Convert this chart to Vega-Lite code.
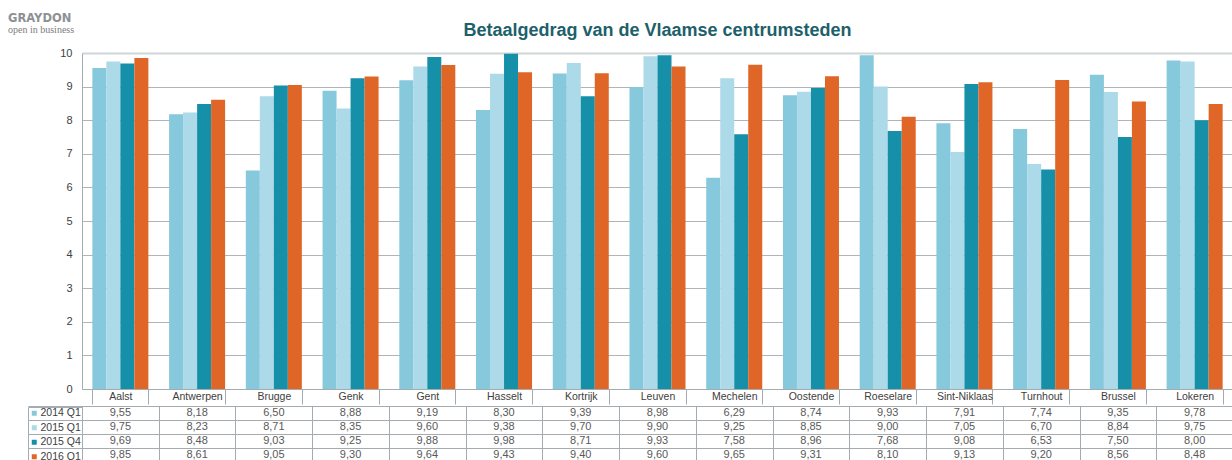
{
  "$schema": "https://vega.github.io/schema/vega-lite/v6.json",
  "padding": {"left": 8, "top": 12, "right": 0, "bottom": 0},
  "autosize": {"type": "pad"},
  "background": "white",
  "config": {
    "font": "Liberation Sans",
    "view": {"stroke": null},
    "locale": {"number": {"decimal": ",", "thousands": ".", "grouping": [3], "currency": ["€", ""]}}
  },
  "title": {
    "text": "GRAYDON",
    "subtitle": "open in business",
    "anchor": "start",
    "frame": "bounds",
    "font": "DejaVu Sans",
    "fontSize": 11.5,
    "fontWeight": "bold",
    "color": "#8d9094",
    "subtitleFont": "Liberation Serif",
    "subtitleFontSize": 10,
    "subtitleColor": "#7c7c7c",
    "subtitlePadding": 1,
    "offset": -13,
    "dx": -19
  },
  "spacing": 0,
  "resolve": {"scale": {"x": "independent", "y": "independent", "color": "independent"}, "legend": {"color": "independent"}},
  "datasets": {
    "d": [
      {"city": "Aalst", "series": "2014 Q1", "value": 9.55},
      {"city": "Aalst", "series": "2015 Q1", "value": 9.75},
      {"city": "Aalst", "series": "2015 Q4", "value": 9.69},
      {"city": "Aalst", "series": "2016 Q1", "value": 9.85},
      {"city": "Antwerpen", "series": "2014 Q1", "value": 8.18},
      {"city": "Antwerpen", "series": "2015 Q1", "value": 8.23},
      {"city": "Antwerpen", "series": "2015 Q4", "value": 8.48},
      {"city": "Antwerpen", "series": "2016 Q1", "value": 8.61},
      {"city": "Brugge", "series": "2014 Q1", "value": 6.50},
      {"city": "Brugge", "series": "2015 Q1", "value": 8.71},
      {"city": "Brugge", "series": "2015 Q4", "value": 9.03},
      {"city": "Brugge", "series": "2016 Q1", "value": 9.05},
      {"city": "Genk", "series": "2014 Q1", "value": 8.88},
      {"city": "Genk", "series": "2015 Q1", "value": 8.35},
      {"city": "Genk", "series": "2015 Q4", "value": 9.25},
      {"city": "Genk", "series": "2016 Q1", "value": 9.30},
      {"city": "Gent", "series": "2014 Q1", "value": 9.19},
      {"city": "Gent", "series": "2015 Q1", "value": 9.60},
      {"city": "Gent", "series": "2015 Q4", "value": 9.88},
      {"city": "Gent", "series": "2016 Q1", "value": 9.64},
      {"city": "Hasselt", "series": "2014 Q1", "value": 8.30},
      {"city": "Hasselt", "series": "2015 Q1", "value": 9.38},
      {"city": "Hasselt", "series": "2015 Q4", "value": 9.98},
      {"city": "Hasselt", "series": "2016 Q1", "value": 9.43},
      {"city": "Kortrijk", "series": "2014 Q1", "value": 9.39},
      {"city": "Kortrijk", "series": "2015 Q1", "value": 9.70},
      {"city": "Kortrijk", "series": "2015 Q4", "value": 8.71},
      {"city": "Kortrijk", "series": "2016 Q1", "value": 9.40},
      {"city": "Leuven", "series": "2014 Q1", "value": 8.98},
      {"city": "Leuven", "series": "2015 Q1", "value": 9.90},
      {"city": "Leuven", "series": "2015 Q4", "value": 9.93},
      {"city": "Leuven", "series": "2016 Q1", "value": 9.60},
      {"city": "Mechelen", "series": "2014 Q1", "value": 6.29},
      {"city": "Mechelen", "series": "2015 Q1", "value": 9.25},
      {"city": "Mechelen", "series": "2015 Q4", "value": 7.58},
      {"city": "Mechelen", "series": "2016 Q1", "value": 9.65},
      {"city": "Oostende", "series": "2014 Q1", "value": 8.74},
      {"city": "Oostende", "series": "2015 Q1", "value": 8.85},
      {"city": "Oostende", "series": "2015 Q4", "value": 8.96},
      {"city": "Oostende", "series": "2016 Q1", "value": 9.31},
      {"city": "Roeselare", "series": "2014 Q1", "value": 9.93},
      {"city": "Roeselare", "series": "2015 Q1", "value": 9.00},
      {"city": "Roeselare", "series": "2015 Q4", "value": 7.68},
      {"city": "Roeselare", "series": "2016 Q1", "value": 8.10},
      {"city": "Sint-Niklaas", "series": "2014 Q1", "value": 7.91},
      {"city": "Sint-Niklaas", "series": "2015 Q1", "value": 7.05},
      {"city": "Sint-Niklaas", "series": "2015 Q4", "value": 9.08},
      {"city": "Sint-Niklaas", "series": "2016 Q1", "value": 9.13},
      {"city": "Turnhout", "series": "2014 Q1", "value": 7.74},
      {"city": "Turnhout", "series": "2015 Q1", "value": 6.70},
      {"city": "Turnhout", "series": "2015 Q4", "value": 6.53},
      {"city": "Turnhout", "series": "2016 Q1", "value": 9.20},
      {"city": "Brussel", "series": "2014 Q1", "value": 9.35},
      {"city": "Brussel", "series": "2015 Q1", "value": 8.84},
      {"city": "Brussel", "series": "2015 Q4", "value": 7.50},
      {"city": "Brussel", "series": "2016 Q1", "value": 8.56},
      {"city": "Lokeren", "series": "2014 Q1", "value": 9.78},
      {"city": "Lokeren", "series": "2015 Q1", "value": 9.75},
      {"city": "Lokeren", "series": "2015 Q4", "value": 8.00},
      {"city": "Lokeren", "series": "2016 Q1", "value": 8.48}
    ]
  },
  "vconcat": [
    {
      "width": 1151,
      "height": 336,
      "title": {
        "text": "Betaalgedrag van de Vlaamse centrumsteden",
        "anchor": "middle",
        "frame": "group",
        "fontSize": 18,
        "fontWeight": "bold",
        "color": "#1d5f6b",
        "offset": 7
      },
      "data": {"name": "d"},
      "mark": {"type": "bar"},
      "encoding": {
        "x": {
          "field": "city",
          "type": "nominal",
          "sort": ["Aalst", "Antwerpen", "Brugge", "Genk", "Gent", "Hasselt", "Kortrijk", "Leuven", "Mechelen", "Oostende", "Roeselare", "Sint-Niklaas", "Turnhout", "Brussel", "Lokeren"],
          "scale": {"paddingInner": 0.27, "paddingOuter": 0.135},
          "axis": {
            "title": null,
            "labelAngle": 0,
            "tickBand": "extent",
            "tickSize": 15,
            "tickColor": "#a4abb1",
            "domainColor": "#a4abb1",
            "labelPadding": -13,
            "labelBaseline": "top",
            "labelFontSize": 10.5,
            "labelColor": "#404040",
            "grid": false
          }
        },
        "xOffset": {
          "field": "series",
          "type": "nominal",
          "sort": ["2014 Q1", "2015 Q1", "2015 Q4", "2016 Q1"],
          "scale": {"paddingInner": 0, "paddingOuter": 0}
        },
        "y": {
          "field": "value",
          "type": "quantitative",
          "scale": {"domain": [0, 10], "nice": false},
          "axis": {
            "title": null,
            "values": [0, 1, 2, 3, 4, 5, 6, 7, 8, 9, 10],
            "ticks": false,
            "labelPadding": 10,
            "labelFontSize": 11,
            "labelColor": "#404040",
            "domainColor": "#a4abb1",
            "gridColor": {"condition": {"test": "datum.value == 10", "value": "#d0d5d8"}, "value": "#aeb5ba"},
            "gridWidth": {"condition": {"test": "datum.value == 10", "value": 2}, "value": 1}
          }
        },
        "color": {
          "field": "series",
          "type": "nominal",
          "scale": {
            "domain": ["2014 Q1", "2015 Q1", "2015 Q4", "2016 Q1"],
            "range": ["#86c8dc", "#addae8", "#168fa8", "#e06628"]
          },
          "legend": null
        }
      }
    },
    {
      "width": 1151,
      "height": 56,
      "view": {"stroke": "#a4abb1"},
      "data": {"name": "d"},
      "encoding": {
        "x": {
          "field": "city",
          "type": "nominal",
          "sort": ["Aalst", "Antwerpen", "Brugge", "Genk", "Gent", "Hasselt", "Kortrijk", "Leuven", "Mechelen", "Oostende", "Roeselare", "Sint-Niklaas", "Turnhout", "Brussel", "Lokeren"],
          "scale": {"paddingInner": 0, "paddingOuter": 0},
          "axis": {"title": null, "labels": false, "ticks": false, "domain": false, "grid": true, "tickBand": "extent", "gridColor": "#a4abb1"}
        },
        "y": {
          "field": "series",
          "type": "nominal",
          "sort": ["2014 Q1", "2015 Q1", "2015 Q4", "2016 Q1"],
          "scale": {"paddingInner": 0, "paddingOuter": 0},
          "axis": {"title": null, "labels": false, "ticks": true, "tickSize": 54, "tickBand": "extent", "tickColor": "#a4abb1", "domain": false, "grid": true, "gridColor": "#a4abb1"}
        }
      },
      "layer": [
        {
          "mark": {"type": "text", "fontSize": 11, "color": "#595959"},
          "encoding": {
            "text": {"field": "value", "type": "quantitative", "format": ".2f"}
          }
        },
        {
          "mark": {"type": "square", "filled": true, "opacity": 0, "size": 0},
          "encoding": {
            "color": {
              "field": "series",
              "type": "nominal",
              "scale": {
                "domain": ["2014 Q1", "2015 Q1", "2015 Q4", "2016 Q1"],
                "range": ["#86c8dc", "#addae8", "#168fa8", "#e06628"]
              },
              "legend": {
                "orient": "none",
                "legendX": -54,
                "legendY": 1,
                "title": null,
                "symbolType": "square",
                "symbolSize": 25,
                "symbolOpacity": 1,
                "symbolStrokeWidth": 0,
                "symbolOffset": 0,
                "labelFontSize": 10.5,
                "labelColor": "#404040",
                "labelOffset": 1,
                "rowPadding": 3.5,
                "padding": 1,
                "strokeColor": "#a4abb1"
              }
            }
          }
        }
      ]
    }
  ]
}
